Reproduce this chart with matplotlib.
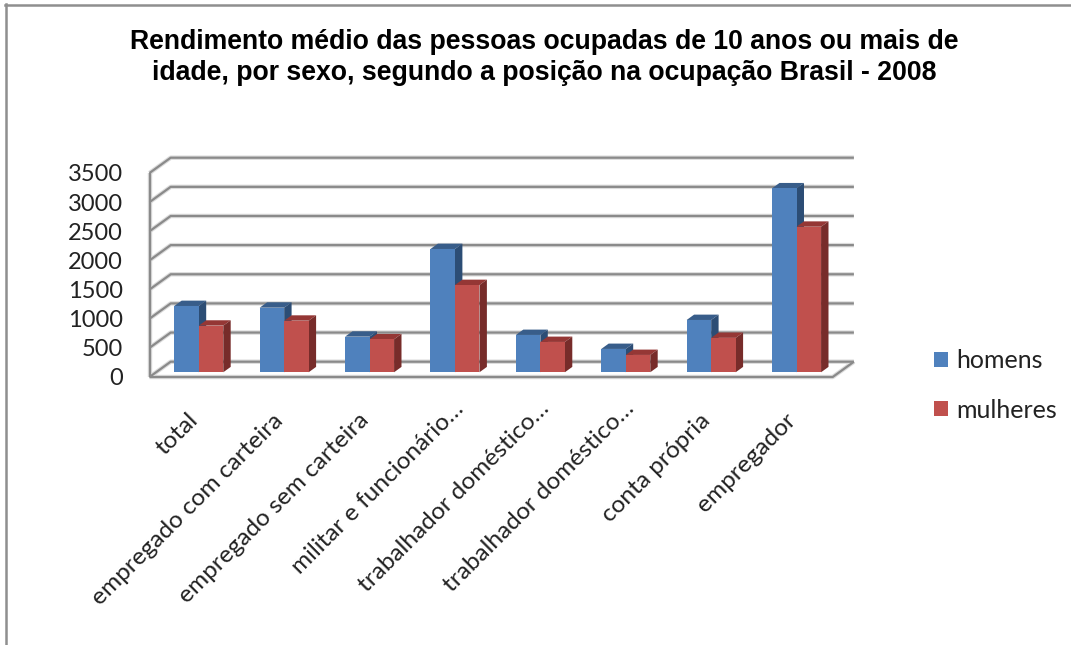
import numpy as np
import matplotlib
matplotlib.use('Agg')
import matplotlib.pyplot as plt
from matplotlib.patches import Polygon, Patch
from matplotlib.transforms import ScaledTranslation

categorias = ['total', 'empregado com carteira', 'empregado sem carteira',
              'militar e funcionário…', 'trabalhador doméstico…',
              'trabalhador doméstico…', 'conta própria', 'empregador']
homens = [1137, 1108, 611, 2115, 640, 400, 897, 3156]
mulheres = [800, 885, 566, 1497, 520, 297, 590, 2497]
yticks = [0, 500, 1000, 1500, 2000, 2500, 3000, 3500]

titulo = ('Rendimento médio das pessoas ocupadas de 10 anos ou mais de\n'
          'idade, por sexo, segundo a posição na ocupação Brasil - 2008')

W, H = 1071, 645
plt.rcParams['font.family'] = ['Lato', 'DejaVu Sans']
fig = plt.figure(figsize=(W / 100, H / 100), dpi=100)

# the axes box is the front plane of the 3d chart
left, right, bottom, top = 149.5, 832.7, 377.0, 173.0
ax = fig.add_axes([left / W, 1 - bottom / H, (right - left) / W, (bottom - top) / H])
ax.set_xlim(0, len(categorias))
ax.set_ylim(0, 3500)
ax.patch.set_alpha(0)
for s in ax.spines.values():
    s.set_visible(False)

# depth of the box in data units
dx = 21.2 * len(categorias) / (right - left)
dy = 15.3 * 3500 / (bottom - top)


def grid(xs, ys):
    ax.plot(xs, ys, color='#dcdcdc', lw=3.2, zorder=1, clip_on=False, solid_capstyle='butt')
    ax.plot(xs, ys, color='#8a8a8a', lw=1.6, zorder=2, clip_on=False, solid_capstyle='butt')


n = len(categorias)
for v in yticks:
    grid([0, dx, n + dx], [v, v + dy, v + dy])
grid([0, 0], [0, 3500])
grid([0, n, n + dx], [0, 0, dy])

# bars stand between these two depths
d0, d1 = 0.31, 0.66
w = 24.5 * n / (right - left)
x = np.arange(n) + 0.5


def barra(xc, v, cor, cor_topo, cor_lado):
    x0, x1 = xc - w / 2 + d0 * dx, xc + w / 2 + d0 * dx
    y0, y1 = d0 * dy, v + d0 * dy
    ox, oy = (d1 - d0) * dx, (d1 - d0) * dy
    ax.add_patch(Polygon([(x0, y1), (x1, y1), (x1 + ox, y1 + oy), (x0 + ox, y1 + oy)],
                         fc=cor_topo, ec='none', zorder=3))
    ax.add_patch(Polygon([(x1, y0), (x1 + ox, y0 + oy), (x1 + ox, y1 + oy), (x1, y1)],
                         fc=cor_lado, ec='none', zorder=3))
    ax.bar(x0, v, width=w, bottom=y0, align='edge', color=cor, zorder=3)


for xc, a, b in zip(x, homens, mulheres):
    barra(xc - w / 2, a, '#4f81bd', '#385d8a', '#2c4d75')
    barra(xc + w / 2, b, '#c0504d', '#953735', '#772c2a')

ax.set_yticks(yticks)
ax.set_yticklabels([str(v) for v in yticks], fontsize=17, color='#222222')
ax.set_xticks(x)
ax.set_xticklabels(categorias, rotation=45, ha='right', rotation_mode='anchor',
                   fontsize=17.6, color='#222222')
ax.tick_params(axis='y', length=0, pad=19)
ax.tick_params(axis='x', length=0, pad=25)
# labels cut with an ellipsis sit further up the diagonal
for lab in ax.get_xticklabels():
    if lab.get_text().endswith('…'):
        desloca = ScaledTranslation(4 / 100, 14 / 100, fig.dpi_scale_trans)
    else:
        desloca = ScaledTranslation(-5 / 100, 2 / 100, fig.dpi_scale_trans)
    lab.set_transform(lab.get_transform() + desloca)

fig.text(544 / W, 1 - 57.5 / H, titulo, ha='center', va='center', fontsize=19.2,
         fontweight='bold', family=['Liberation Sans'], linespacing=1.22, color='black')

handles = [Patch(fc='#4f81bd', label='homens'), Patch(fc='#c0504d', label='mulheres')]
fig.legend(handles=handles, loc='center left', bbox_to_anchor=(911.5 / W, 1 - 385.5 / H),
           frameon=False, fontsize=18, handlelength=0.56, handleheight=0.56,
           handletextpad=0.32, labelspacing=1.04, labelcolor='#222222')

# outer border of the chart area
for xs, ys in [([6, 6], [4, H]), ([5, W], [4.5, 4.5])]:
    fig.add_artist(plt.Line2D(np.array(xs) / W, 1 - np.array(ys) / H, color='#8f8f8f', lw=1.8))

fig.savefig('out.png', dpi=100)
